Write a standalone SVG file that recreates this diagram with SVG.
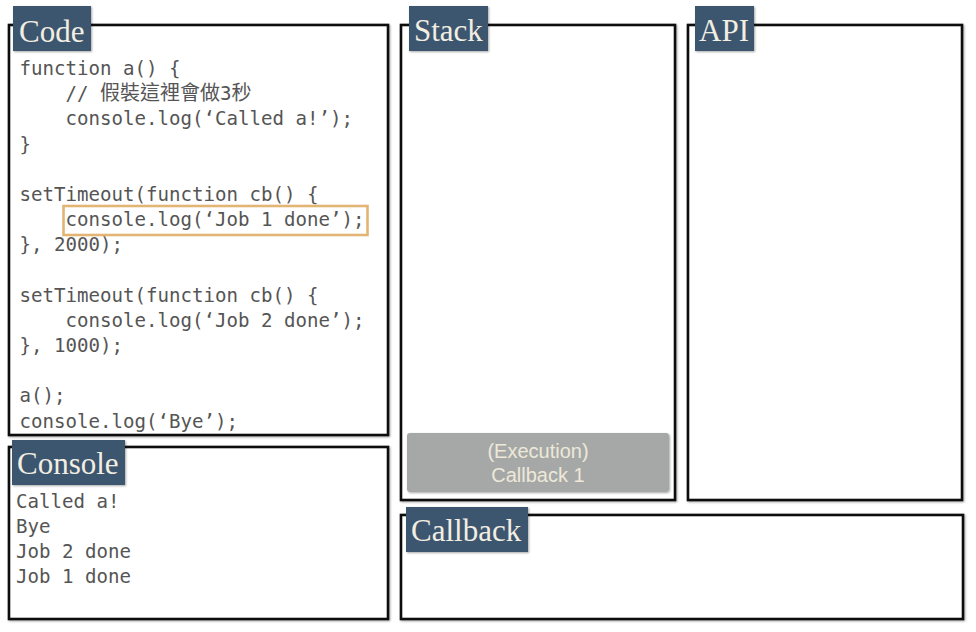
<svg xmlns="http://www.w3.org/2000/svg" width="976" height="632" viewBox="0 0 976 632">
<defs>
<filter id="sh" x="-10%" y="-10%" width="130%" height="130%">
<feGaussianBlur in="SourceAlpha" stdDeviation="1.2"/>
<feOffset dx="1" dy="1" result="b"/>
<feComponentTransfer><feFuncA type="linear" slope="0.35"/></feComponentTransfer>
<feMerge><feMergeNode/><feMergeNode in="SourceGraphic"/></feMerge>
</filter>
</defs>
<style>
.box{fill:#fff;stroke:#111;stroke-width:2.6}
.lab{fill:#3e5770}
.labt{font-family:"Liberation Serif",serif;font-size:31px;fill:#f3eee2}
.code{font-family:"DejaVu Sans Mono","Liberation Mono","Noto Sans CJK TC",monospace;font-size:19.1px;fill:#555555}
.cjk{font-family:"Noto Sans CJK TC",sans-serif;font-size:20px}
.exe{font-family:"Liberation Sans",sans-serif;font-size:20px;fill:#eee8da;text-anchor:middle}
</style>
<rect width="976" height="632" fill="#fff"/>
<g id="code">
<rect class="box" x="9" y="25" width="379" height="410" filter="url(#sh)"/>
<rect class="lab" x="13" y="6" width="78" height="45" filter="url(#sh)"/>
<text class="labt" x="19" y="42">Code</text>
<g class="code">
<text x="19.5" y="75">function a() {</text>
<text x="65.5" y="100.2">// <tspan class="cjk">假裝這裡會做</tspan>3<tspan class="cjk">秒</tspan></text>
<text x="65.5" y="125.4">console.log(‘Called a!’);</text>
<text x="19.5" y="150.6">}</text>
<text x="19.5" y="200.9">setTimeout(function cb() {</text>
<text x="65.5" y="226.1">console.log(‘Job 1 done’);</text>
<text x="19.5" y="251.3">}, 2000);</text>
<text x="19.5" y="301.6">setTimeout(function cb() {</text>
<text x="65.5" y="326.8">console.log(‘Job 2 done’);</text>
<text x="19.5" y="352">}, 1000);</text>
<text x="19.5" y="402.3">a();</text>
<text x="19.5" y="427.5">console.log(‘Bye’);</text>
</g>
<rect x="63.5" y="206" width="304" height="29" fill="none" stroke="#e2b574" stroke-width="2.6"/>
</g>
<g id="console">
<rect class="box" x="9" y="447" width="379" height="172" filter="url(#sh)"/>
<rect class="lab" x="12" y="440" width="113" height="45" filter="url(#sh)"/>
<text class="labt" x="17" y="474">Console</text>
<g class="code">
<text x="16" y="508">Called a!</text>
<text x="16" y="533">Bye</text>
<text x="16" y="558">Job 2 done</text>
<text x="16" y="583">Job 1 done</text>
</g>
</g>
<g id="stack">
<rect class="box" x="401" y="25" width="274" height="475" filter="url(#sh)"/>
<rect class="lab" x="409" y="6" width="79" height="45" filter="url(#sh)"/>
<text class="labt" x="414" y="41">Stack</text>
<rect x="407" y="433" width="262" height="59" rx="3" fill="#a5a8a6" filter="url(#sh)"/>
<text class="exe" x="538" y="458">(Execution)</text>
<text class="exe" x="538" y="482">Callback 1</text>
</g>
<g id="api">
<rect class="box" x="688" y="25" width="274" height="475" filter="url(#sh)"/>
<rect class="lab" x="695" y="6" width="59" height="45" filter="url(#sh)"/>
<text class="labt" x="699" y="41">API</text>
</g>
<g id="callback">
<rect class="box" x="401" y="515" width="562" height="104" filter="url(#sh)"/>
<rect class="lab" x="406" y="507" width="122" height="45" filter="url(#sh)"/>
<text class="labt" x="411" y="541">Callback</text>
</g>
<g id="connectors"/>
</svg>
